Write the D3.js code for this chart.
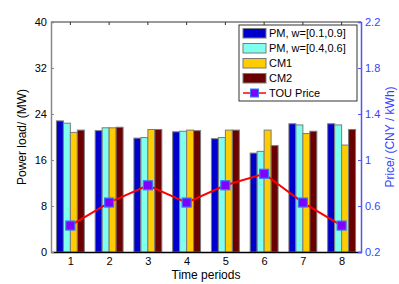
<!DOCTYPE html>
<html>
<head>
<meta charset="utf-8">
<script src="https://cdn.jsdelivr.net/npm/d3@7"></script>
<style>
  body { margin: 0; background: #fff; }
  svg text { font-family: "Liberation Sans", Arial, sans-serif; }
</style>
</head>
<body>
<svg id="chart" width="399" height="284"></svg>
<script>
var periods = [1, 2, 3, 4, 5, 6, 7, 8];
var seriesNames = ["PM, w=[0.1,0.9]", "PM, w=[0.4,0.6]", "CM1", "CM2"];
var pm19 = [22.8, 21.1, 19.8, 20.9, 19.7, 17.2, 22.3, 22.3];
var pm46 = [22.4, 21.6, 19.9, 21.0, 19.9, 17.5, 22.1, 22.1];
var cm1 = [20.8, 21.6, 21.3, 21.2, 21.2, 21.2, 20.6, 18.6];
var cm2 = [21.2, 21.7, 21.3, 21.1, 21.2, 18.5, 21.0, 21.3];
var touPrice = [0.43, 0.63, 0.78, 0.63, 0.78, 0.88, 0.63, 0.43];
var loadTicks = [0, 8, 16, 24, 32, 40];
var priceTicks = [0.2, 0.6, 1, 1.4, 1.8, 2.2];
var colors = ["#0000cc", "#80ffee", "#ffcc00", "#6b0000"];

var svg = d3.select("#chart"),
    margin = {top: 22, right: 38, bottom: 32, left: 51},
    width = +svg.attr("width") - margin.left - margin.right,
    height = +svg.attr("height") - margin.top - margin.bottom;

var x = d3.scaleLinear().domain([0.5, 8.5]).range([0, width]);
var y = d3.scaleLinear().domain([0, 40]).range([height, 0]);
var y2 = d3.scaleLinear().domain([0.2, 2.2]).range([height, 0]);
var groupW = (x(2) - x(1)) * 0.72;
var inner = d3.scaleBand().domain(d3.range(4)).range([-groupW / 2, groupW / 2]);

var g = svg.append("g")
    .attr("transform", "translate(" + margin.left + "," + margin.top + ")");

var data = [pm19, pm46, cm1, cm2];

data.forEach(function(vals, si) {
  g.selectAll(".bar" + si)
    .data(vals)
    .enter().append("rect")
      .attr("x", function(d, i) { return x(periods[i]) + inner(si); })
      .attr("y", function(d) { return y(d); })
      .attr("width", inner.bandwidth())
      .attr("height", function(d) { return height - y(d); })
      .attr("fill", colors[si])
      .attr("stroke", "#7a7a7a")
      .attr("stroke-width", 1);
});

// top border with ticks
g.append("line").attr("x1", 0).attr("x2", width).attr("y1", 0).attr("y2", 0)
  .attr("stroke", "#333");
g.selectAll(".tt").data(periods).enter().append("line")
  .attr("x1", function(d) { return x(d); }).attr("x2", function(d) { return x(d); })
  .attr("y1", 0).attr("y2", 3).attr("stroke", "#333");

var xAxis = g.append("g")
    .attr("transform", "translate(0," + height + ")")
    .call(d3.axisBottom(x).tickValues(periods).tickSize(0).tickPadding(5).tickFormat(d3.format("d")));
xAxis.select(".domain").attr("stroke", "#000").attr("stroke-width", 1.5);
xAxis.selectAll("text").attr("font-size", 11).attr("fill", "#000");

var yAxis = g.append("g")
    .call(d3.axisLeft(y).tickValues(loadTicks).tickSize(-3).tickPadding(4));
yAxis.select(".domain").attr("stroke", "#888").attr("stroke-width", 1.5);
yAxis.selectAll(".tick line").attr("stroke", "#888");
yAxis.selectAll("text").attr("font-size", 11).attr("fill", "#000");

var y2Axis = g.append("g")
    .attr("transform", "translate(" + width + ",0)")
    .call(d3.axisRight(y2).tickValues(priceTicks).tickSize(-3).tickPadding(4).tickFormat(d3.format("")));
y2Axis.select(".domain").attr("stroke", "#5555ee").attr("stroke-width", 1.5);
y2Axis.selectAll(".tick line").attr("stroke", "#5555ee");
y2Axis.selectAll("text").attr("font-size", 11).attr("fill", "#3344ff");

// price line
var line = d3.line()
  .x(function(d, i) { return x(periods[i]); })
  .y(function(d) { return y2(d); });
g.append("path").datum(touPrice)
  .attr("d", line).attr("fill", "none").attr("stroke", "#ff0000").attr("stroke-width", 2);
g.selectAll(".mk").data(touPrice).enter().append("rect")
  .attr("x", function(d, i) { return x(periods[i]) - 4.5; })
  .attr("y", function(d) { return y2(d) - 4.5; })
  .attr("width", 9).attr("height", 9)
  .attr("fill", "#8000ff").attr("stroke", "#3377ff").attr("stroke-width", 1.2);

// labels
svg.append("text").attr("x", margin.left + width / 2).attr("y", 279)
  .attr("text-anchor", "middle").attr("font-size", 12).text("Time periods");
svg.append("text")
  .attr("transform", "translate(26," + (margin.top + height / 2) + ") rotate(-90)")
  .attr("text-anchor", "middle").attr("font-size", 12).text("Power load/ (MW)");
svg.append("text")
  .attr("transform", "translate(394," + (margin.top + height / 2) + ") rotate(-90)")
  .attr("text-anchor", "middle").attr("font-size", 12).attr("fill", "#3344ff")
  .text("Price/ (CNY / kWh)");

// legend
var lg = svg.append("g").attr("transform", "translate(239,25)");
lg.append("rect").attr("width", 118).attr("height", 76)
  .attr("fill", "#fff").attr("stroke", "#333").attr("stroke-width", 1);
seriesNames.forEach(function(name, i) {
  var row = lg.append("g").attr("transform", "translate(0," + (8 + i * 15) + ")");
  row.append("rect").attr("x", 4).attr("y", -4.5).attr("width", 23).attr("height", 9.5)
    .attr("fill", colors[i]).attr("stroke", "#7a7a7a");
  row.append("text").attr("x", 30).attr("y", 4).attr("font-size", 11).text(name);
});
var last = lg.append("g").attr("transform", "translate(0," + (8 + 4 * 15) + ")");
last.append("line").attr("x1", 4).attr("x2", 27).attr("stroke", "#ff0000").attr("stroke-width", 1.5);
last.append("rect").attr("x", 11.5).attr("y", -4).attr("width", 8).attr("height", 8)
  .attr("fill", "#8000ff").attr("stroke", "#3377ff");
last.append("text").attr("x", 30).attr("y", 4).attr("font-size", 11).text("TOU Price");
</script>
</body>
</html>
